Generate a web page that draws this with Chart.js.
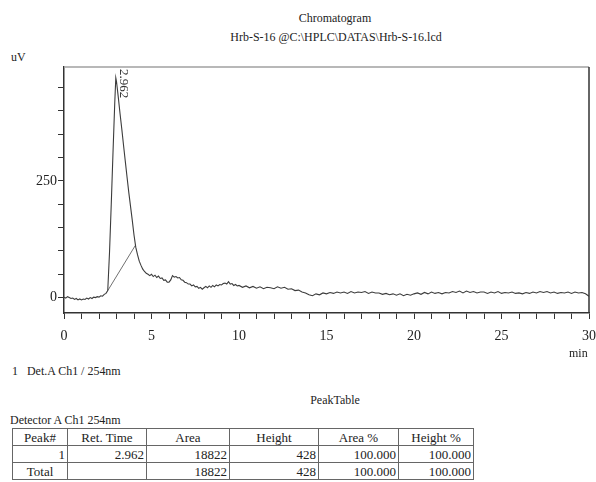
<!DOCTYPE html>
<html>
<head>
<meta charset="utf-8">
<script src="https://cdn.jsdelivr.net/npm/chart.js@4.4.1/dist/chart.umd.min.js"></script>
<style>
    html, body { margin: 0; padding: 0; background: #fff; }
    body {
        width: 596px; height: 482px; position: relative; overflow: hidden;
        font-family: "Liberation Serif", "DejaVu Serif", serif; color: #222;
    }
    #wrap { position: absolute; left: 0; top: 0; width: 596px; height: 360px; }
    .txt { position: absolute; white-space: nowrap; font-size: 13px; line-height: 14px; }
    .center { transform: translateX(-50%) scaleX(0.92); }
    .left { transform-origin: 0 0; transform: scaleX(0.92); }
    #peakTable {
        position: absolute; left: 12px; top: 428px;
        border-collapse: collapse; table-layout: fixed;
        font-size: 13px; line-height: 15px;
        border: 1.5px solid #444;
    }
    #peakTable td, #peakTable th {
        border: 1px solid #666; padding: 0 2px; font-weight: normal;
        height: 16px; overflow: hidden; white-space: nowrap;
    }
    #peakTable th { text-align: center; }
    #peakTable td { text-align: right; }
    #peakTable td.c { text-align: center; }
</style>
</head>
<body>

<div class="txt center" style="left:335px; top:11px;">Chromatogram</div>
<div class="txt center" style="left:336px; top:30px;">Hrb-S-16 @C:\HPLC\DATAS\Hrb-S-16.lcd</div>
<div class="txt left" style="left:11px; top:50px;">uV</div>

<div id="wrap"><canvas id="chromChart" width="596" height="360"></canvas></div>

<div class="txt left" style="left:569px; top:346px;">min</div>
<div class="txt left" style="left:12px; top:364px;">1&nbsp;&nbsp;&nbsp;Det.A Ch1 / 254nm</div>
<div class="txt center" style="left:335px; top:393px;">PeakTable</div>
<div class="txt left" style="left:10px; top:413px;">Detector A Ch1 254nm</div>

<table id="peakTable">
    <thead><tr id="headRow"></tr></thead>
    <tbody id="tableBody"></tbody>
</table>

<script>
/* ================= DATA ================= */

// retention time (min)
const timeMin = [
    0, 0.1, 0.2, 0.3, 0.4, 0.5, 0.6, 0.7, 0.8, 0.9,
    1, 1.1, 1.2, 1.3, 1.4, 1.5, 1.6, 1.7, 1.8, 1.9,
    2, 2.1, 2.2, 2.3, 2.4, 2.5, 2.6, 2.7, 2.8, 2.9, 2.96,
    3, 3.1, 3.2, 3.3, 3.4, 3.5, 3.6, 3.7, 3.8, 3.9,
    4, 4.1, 4.2, 4.3, 4.4, 4.5, 4.6, 4.7, 4.8, 4.9,
    5, 5.1, 5.2, 5.3, 5.4, 5.5, 5.6, 5.7, 5.8, 5.9,
    6, 6.1, 6.2, 6.3, 6.4, 6.5, 6.6, 6.7, 6.8, 6.9,
    7, 7.1, 7.2, 7.3, 7.4, 7.5, 7.6, 7.7, 7.8, 7.9,
    8, 8.1, 8.2, 8.3, 8.4, 8.5, 8.6, 8.7, 8.8, 8.9,
    9, 9.1, 9.2, 9.3, 9.4, 9.5, 9.6, 9.7, 9.8, 9.9,
    10, 10.2, 10.4, 10.6, 10.8, 11, 11.2, 11.4, 11.6, 11.8,
    12, 12.2, 12.4, 12.6, 12.8, 13, 13.2, 13.4, 13.6, 13.8,
    14, 14.2, 14.4, 14.6, 14.8, 15, 15.2, 15.4, 15.6, 15.8,
    16, 16.2, 16.4, 16.6, 16.8, 17, 17.2, 17.4, 17.6, 17.8,
    18, 18.2, 18.4, 18.6, 18.8, 19, 19.2, 19.4, 19.6, 19.8,
    20, 20.2, 20.4, 20.6, 20.8, 21, 21.2, 21.4, 21.6, 21.8,
    22, 22.2, 22.4, 22.6, 22.8, 23, 23.2, 23.4, 23.6, 23.8,
    24, 24.2, 24.4, 24.6, 24.8, 25, 25.2, 25.4, 25.6, 25.8,
    26, 26.2, 26.4, 26.6, 26.8, 27, 27.2, 27.4, 27.6, 27.8,
    28, 28.2, 28.4, 28.6, 28.8, 29, 29.2, 29.4, 29.6, 29.8,
    30
];

// detector signal (uV)
const signalUv = [
    1, -1, 2, 0, -2, -1, -4, -2, -5, -3,
    -5, -3, -4, -1, -3, 0, -2, 1, 0, 2,
    1, 4, 3, 7, 9, 15, 96, 200, 311, 417, 471,
    463, 430, 395, 362, 327, 293, 259, 226, 196, 166,
    134, 108, 92, 78, 69, 61, 56, 52, 50, 47,
    50, 45, 48, 43, 46, 41, 42, 37, 38, 33,
    33, 38, 47, 44, 45, 42, 43, 38, 37, 33,
    32, 29, 29, 25, 27, 23, 24, 20, 22, 18,
    21, 24, 21, 25, 22, 26, 23, 27, 25, 28,
    27, 30, 31, 29, 34, 29, 30, 26, 28, 25,
    26, 22, 25, 21, 24, 20, 23, 19, 22, 21,
    19, 23, 20, 22, 18, 19, 15, 16, 12, 10,
    6, 4, 8, 6, 10, 8, 11, 9, 12, 10,
    12, 9, 13, 10, 12, 11, 13, 9, 12, 10,
    10, 7, 9, 6, 8, 5, 8, 4, 7, 5,
    8, 10, 7, 11, 8, 12, 9, 11, 8, 11,
    10, 13, 11, 14, 10, 14, 11, 13, 10, 12,
    12, 9, 12, 10, 13, 9, 11, 10, 12, 9,
    10, 8, 11, 9, 12, 10, 13, 11, 13, 10,
    12, 9, 11, 10, 12, 9, 12, 10, 11, 8,
    3
];

// integration baseline of peak 1 (start / end)
const baselineTimes = [2.5, 4.08];
const baselineUv = [15, 112];

// peak labels
const peakTimes = [2.962];
const peakLabels = ["2.962"];

// axis ticks
const xTickValues = [0, 1, 2, 3, 4, 5, 6, 7, 8, 9, 10, 11, 12, 13, 14, 15,
    16, 17, 18, 19, 20, 21, 22, 23, 24, 25, 26, 27, 28, 29, 30];
const xLabelValues = [0, 5, 10, 15, 20, 25, 30];
const yTickValues = [0, 50, 100, 150, 200, 250, 300, 350, 400, 450];
const yLabelValues = [0, 250];

// peak table
const tableHeaders = ["Peak#", "Ret. Time", "Area", "Height", "Area %", "Height %"];
const tableRows = [
    ["1", "2.962", "18822", "428", "100.000", "100.000"],
    ["Total", "", "18822", "428", "100.000", "100.000"],
];
const colWidths = [50, 74, 78, 84, 75, 70];

/* ================= CHART ================= */

const AXIS = "#333";
const FONT = "'Liberation Serif', 'DejaVu Serif', serif";

const framePlugin = {
    id: "frame",
    afterDatasetsDraw(chart) {
        const { ctx, chartArea: a, scales } = chart;
        ctx.save();
        // top (grey) and right (dark) frame
        ctx.lineWidth = 1.5;
        ctx.strokeStyle = "#a0a0a0";
        ctx.beginPath();
        ctx.moveTo(a.left, a.top);
        ctx.lineTo(a.right, a.top);
        ctx.stroke();
        ctx.strokeStyle = AXIS;
        ctx.beginPath();
        ctx.moveTo(a.right, a.top);
        ctx.lineTo(a.right, a.bottom);
        ctx.stroke();

        // rotated peak label
        ctx.font = "13px " + FONT;
        ctx.fillStyle = "#333";
        ctx.textAlign = "left";
        ctx.textBaseline = "middle";
        peakTimes.forEach((t, i) => {
            const px = scales.x.getPixelForValue(t);
            ctx.save();
            ctx.translate(px + 8, a.top + 2);
            ctx.rotate(Math.PI / 2);
            ctx.fillText(peakLabels[i], 0, 0);
            ctx.restore();
        });
        ctx.restore();
    }
};

new Chart(document.getElementById("chromChart"), {
    type: "line",
    data: {
        datasets: [
            {
                data: timeMin.map((t, i) => ({ x: t, y: signalUv[i] })),
                borderColor: "#3c3c3c",
                borderWidth: 1.1,
                pointRadius: 0,
                tension: 0,
            },
            {
                data: baselineTimes.map((t, i) => ({ x: t, y: baselineUv[i] })),
                borderColor: "#707070",
                borderWidth: 1,
                pointRadius: 0,
                tension: 0,
            }
        ]
    },
    options: {
        responsive: false,
        animation: false,
        layout: { padding: { top: 67, right: 7, left: 0, bottom: 0 } },
        plugins: {
            legend: { display: false },
            tooltip: { enabled: false }
        },
        scales: {
            x: {
                type: "linear",
                min: 0,
                max: 30,
                afterBuildTicks: s => { s.ticks = xTickValues.map(v => ({ value: v })); },
                afterFit: s => {
                    s.height = 47;
                    s.paddingLeft = 0;
                    s.paddingRight = 0;
                },
                border: { display: true, color: AXIS, width: 1.5 },
                grid: {
                    drawOnChartArea: false,
                    drawTicks: true,
                    tickLength: 6,
                    tickColor: AXIS,
                },
                ticks: {
                    autoSkip: false,
                    maxRotation: 0,
                    padding: 9,
                    color: "#222",
                    font: { family: FONT, size: 14 },
                    callback: v => xLabelValues.includes(v) ? String(v) : "",
                }
            },
            y: {
                type: "linear",
                min: -33,
                max: 494,
                afterBuildTicks: s => { s.ticks = yTickValues.map(v => ({ value: v })); },
                afterFit: s => {
                    s.width = 64;
                    s.paddingTop = 0;
                    s.paddingBottom = 0;
                },
                border: { display: true, color: AXIS, width: 1.5 },
                grid: {
                    drawOnChartArea: false,
                    drawTicks: true,
                    tickLength: 6,
                    tickColor: AXIS,
                },
                ticks: {
                    padding: 1,
                    color: "#222",
                    font: { family: FONT, size: 14 },
                    callback: v => yLabelValues.includes(v) ? String(v) : "",
                }
            }
        }
    },
    plugins: [framePlugin]
});

/* ================= TABLE ================= */

const headRow = document.getElementById("headRow");
tableHeaders.forEach((h, i) => {
    const th = document.createElement("th");
    th.textContent = h;
    th.style.width = colWidths[i] + "px";
    headRow.appendChild(th);
});

const tableBody = document.getElementById("tableBody");
tableRows.forEach(row => {
    const tr = document.createElement("tr");
    row.forEach(cell => {
        const td = document.createElement("td");
        td.textContent = cell;
        if (cell === "Total") td.className = "c";
        tr.appendChild(td);
    });
    tableBody.appendChild(tr);
});
</script>
</body>
</html>
